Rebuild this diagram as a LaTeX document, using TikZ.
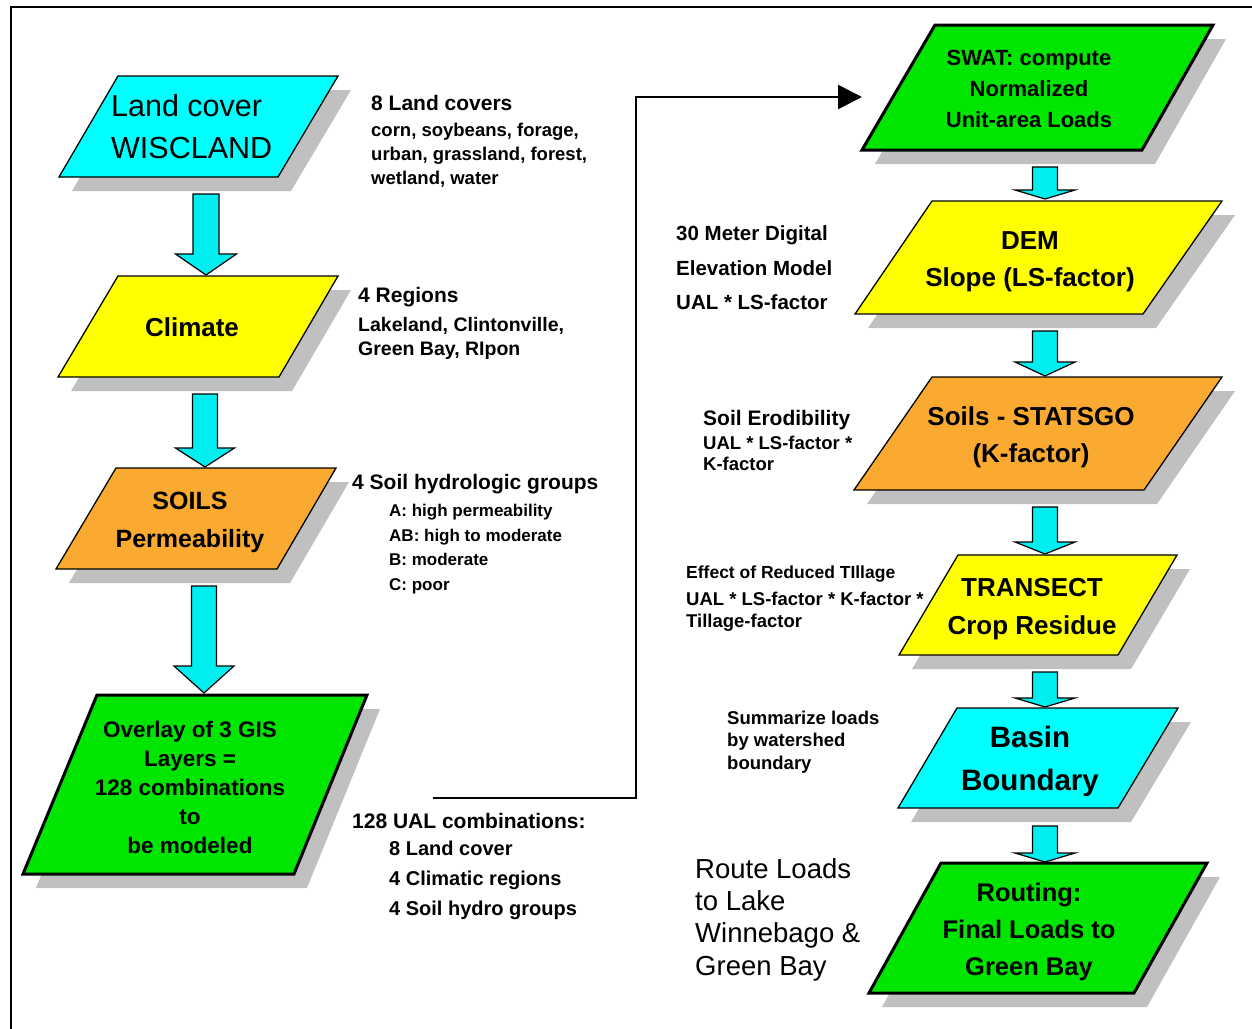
\documentclass[tikz,border=0pt]{standalone}
\usepackage{fontspec}
\setmainfont{Liberation Sans}
\usetikzlibrary{arrows.meta}
\definecolor{cyb}{RGB}{0,255,255}
\definecolor{cyarr}{RGB}{0,238,240}
\definecolor{yeb}{RGB}{255,255,0}
\definecolor{orb}{RGB}{250,170,48}
\definecolor{grb}{RGB}{0,230,0}
\definecolor{shd}{RGB}{192,192,192}
% #1 name, #2 TLx, #3 TRx, #4 BRx, #5 BLx, #6 ytop, #7 ybot, #8 fill, #9 line width
\newcommand{\pgram}[9]{%
  \fill[shd] (#2+13,#6+14) -- (#3+13,#6+14) -- (#4+13,#7+14) -- (#5+13,#7+14) -- cycle;
  \draw[fill=#8,line width=#9,line join=miter] (#2,#6) -- (#3,#6) -- (#4,#7) -- (#5,#7) -- cycle;
  \coordinate (#1-n) at ({(#2+#3)/2},#6);
  \coordinate (#1-s) at ({(#4+#5)/2},#7);
}
% #1 xc, #2 shaft half, #3 ytop, #4 yhead, #5 head half, #6 ytip
\newcommand{\barr}[6]{%
  \draw[fill=cyarr,line width=1.2,line join=miter] (#1-#2,#3) -- (#1+#2,#3) -- (#1+#2,#4) -- (#1+#5,#4) -- (#1,#6) -- (#1-#5,#4) -- (#1-#2,#4) -- cycle;
}
\tikzset{
  boxtxt/.style={align=center,inner sep=0pt},
  note/.style={anchor=west,align=left,inner sep=0pt},
}
\newcommand{\fs}[2]{\fontsize{#1}{#2}\selectfont}
\begin{document}
\begin{tikzpicture}[x=1pt,y=-1pt]
\useasboundingbox (0,0) rectangle (1252,1028);
\fill[white] (0,0) rectangle (1252,1028);
\draw[line width=2.5] (11,1030) -- (11,7) -- (1254,7);

% left column boxes
\pgram{lc}{118}{338}{278}{59}{76}{177}{cyb}{1.3}
\pgram{cl}{118}{338}{279}{58}{276}{377}{yeb}{1.3}
\pgram{so}{116}{336}{277}{56}{468}{569}{orb}{1.3}
\pgram{ov}{97}{367}{294}{23}{695}{874}{grb}{3}
% right column boxes
\pgram{sw}{935}{1213}{1142}{862}{25}{150}{grb}{3}
\pgram{de}{932}{1222}{1143}{855}{201}{314}{yeb}{1.3}
\pgram{st}{932}{1222}{1144}{854}{377}{490}{orb}{1.3}
\pgram{tr}{958}{1177}{1118}{899}{555}{655}{yeb}{1.3}
\pgram{ba}{957}{1178}{1118}{898}{708}{808}{cyb}{1.3}
\pgram{ro}{941}{1207}{1134}{869}{863}{993}{grb}{3}

% block arrows
\barr{206}{13}{194}{254}{30.5}{275}
\barr{205}{12.5}{394}{448}{29.5}{467}
\barr{204}{12.5}{586}{666}{30}{693}
\barr{1045}{12.5}{167}{190}{30}{199}
\barr{1045}{12.5}{331}{362}{30}{376}
\barr{1045}{12.5}{507}{542}{30}{554}
\barr{1045}{12.5}{672}{698}{30}{707}
\barr{1045}{12.5}{826}{853}{30}{862}

% box texts
\node[boxtxt,anchor=west,align=left,font=\fs{30.5}{42}] (lct) at (111,126.5) {Land cover\\WISCLAND};
\node[boxtxt,font=\bfseries\fs{26}{37}] (clt) at (192,327) {Climate};
\node[boxtxt,font=\bfseries\fs{25}{38}] (sot) at (190,522) {SOILS\\Permeability};
\node[boxtxt,font=\bfseries\fs{22.5}{29}] (ovt) at (190,787) {Overlay of 3 GIS\\Layers =\\128 combinations\\to\\be modeled};
\node[boxtxt,font=\bfseries\fs{22}{31}] (swt) at (1029,88.5) {SWAT: compute\\Normalized\\Unit-area Loads};
\node[boxtxt,font=\bfseries\fs{26}{37}] (det) at (1030,261.5) {DEM\\Slope (LS-factor)};
\node[boxtxt,font=\bfseries\fs{26}{37}] (stt) at (1031,437.5) {Soils - STATSGO\\(K-factor)};
\node[boxtxt,font=\bfseries\fs{26}{38}] (trt) at (1032,609) {TRANSECT\\Crop Residue};
\node[boxtxt,font=\bfseries\fs{29.5}{43}] (bat) at (1030,761.5) {Basin\\Boundary};
\node[boxtxt,font=\bfseries\fs{25.5}{37}] (rot) at (1029,932) {Routing:\\Final Loads to\\Green Bay};

% notes left
\node[note,font=\bfseries\fs{21}{24}] (n1a) at (371,103) {8 Land covers};
\node[note,font=\bfseries\fs{18.5}{24}] (n1b) at (371,155) {corn, soybeans, forage,\\urban, grassland, forest,\\wetland, water};
\node[note,font=\bfseries\fs{21}{24}] (n2a) at (358,297) {4 Regions};
\node[note,font=\bfseries\fs{19.5}{24}] (n2b) at (358,338) {Lakeland, Clintonville,\\Green Bay, RIpon};
\node[note,font=\bfseries\fs{21}{24}] (n3a) at (352,484) {4 Soil hydrologic groups};
\node[note,font=\bfseries\fs{17}{24.7}] (n3b) at (389,549) {A: high permeability\\AB: high to moderate\\B: moderate\\C: poor};
\node[note,font=\bfseries\fs{21}{24}] (n4a) at (352,821) {128 UAL combinations:};
\node[note,font=\bfseries\fs{20}{30}] (n4b) at (389,880) {8 Land cover\\4 Climatic regions\\4 Soil hydro groups};

% notes right
\node[note,font=\bfseries\fs{20.5}{34.5}] (m1) at (676,268) {30 Meter Digital\\Elevation Model\\UAL * LS-factor};
\node[note,font=\bfseries\fs{21}{24}] (m2a) at (703,420) {Soil Erodibility};
\node[note,font=\bfseries\fs{18.5}{21}] (m2b) at (703,453) {UAL * LS-factor *\\K-factor};
\node[note,font=\bfseries\fs{17.5}{22}] (m3a) at (686,574) {Effect of Reduced TIllage};
\node[note,font=\bfseries\fs{18.5}{22}] (m3b) at (686,612) {UAL * LS-factor * K-factor *\\Tillage-factor};
\node[note,font=\bfseries\fs{18.5}{22.5}] (m4) at (727,742) {Summarize loads\\by watershed\\boundary};
\node[note,font=\fs{27.5}{32.3}] (m5) at (695,919.5) {Route Loads\\to Lake\\Winnebago \&\\Green Bay};

% connector
\coordinate (cstart) at (433,798);
\coordinate (ctop) at (636,97);
\coordinate (cend) at (862,97);
\draw[line width=2.5,line join=miter,-{Triangle[length=24pt,width=24pt]}] (cstart) -| (ctop) -- (cend);
\end{tikzpicture}
\end{document}
